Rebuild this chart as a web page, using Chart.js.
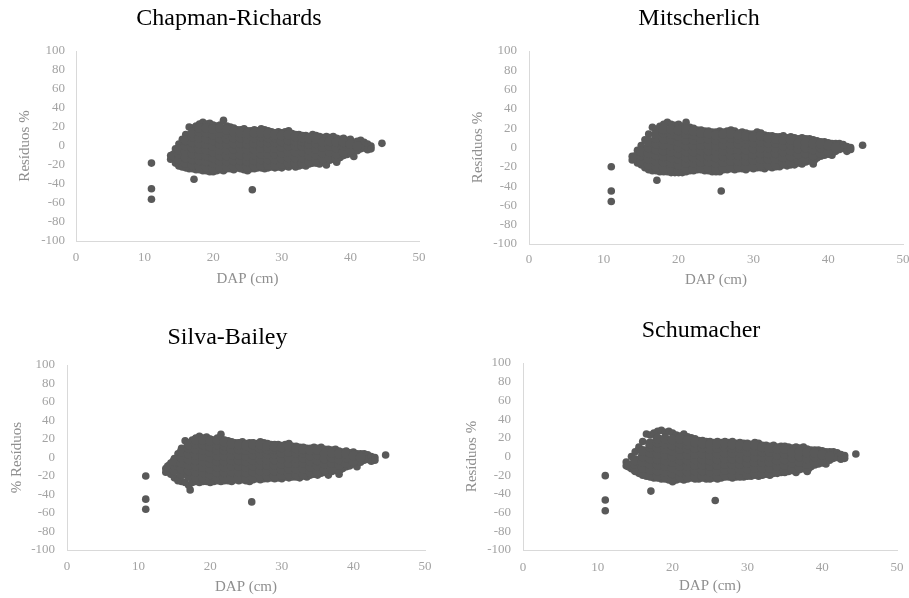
<!DOCTYPE html>
<html><head><meta charset="utf-8">
<script src="https://cdn.jsdelivr.net/npm/chart.js@4.4.0/dist/chart.umd.min.js"></script>
<style>
html,body{margin:0;padding:0;background:#fff;overflow:hidden;width:909px;height:598px;position:relative}
canvas{position:absolute}
</style></head><body>
<canvas id="c1"></canvas><canvas id="c2"></canvas><canvas id="c3"></canvas><canvas id="c4"></canvas>
<script>
// ---------- DATA ----------
const modelNames = ['Chapman-Richards', 'Mitscherlich', 'Silva-Bailey', 'Schumacher'];
const yTitles = ['Resíduos %', 'Resíduos %', '% Resíduos', 'Resíduos %'];
const xTitle = 'DAP (cm)';
const xTicks = [0, 10, 20, 30, 40, 50];
const yTicks = [-100, -80, -60, -40, -20, 0, 20, 40, 60, 80, 100];

// dense core of the residual cloud (DAP column -> residuals)
const coreDAP = [14.2, 15, 16, 17, 18, 19, 20, 21, 22, 23, 24, 25, 26, 27, 28, 29, 30, 31, 32, 33, 34, 35, 36, 37, 38, 39, 40, 41];
const coreRes = [
  [-10], [-14,-8,-4], [-18,-12,-6,0,6], [-20,-14,-8,-2,4,10,14],
  [-21,-15,-9,-3,3,9,15,19], [-22,-16,-10,-4,2,8,14,19], [-24,-18,-12,-6,0,6,12,18], [-22,-16,-10,-4,2,8,14,19],
  [-22,-16,-10,-4,2,8,13,17], [-21,-15,-9,-3,3,9,15], [-21,-15,-9,-3,3,9,14], [-22,-16,-10,-4,2,8,13],
  [-21,-15,-9,-3,3,9,14], [-20,-14,-8,-2,4,10,14], [-20,-14,-8,-2,4,9,13], [-20,-14,-8,-2,4,9,12],
  [-19,-13,-7,-1,5,11], [-18,-12,-6,0,6,12], [-18,-12,-6,0,5,10], [-18,-12,-6,0,5,9],
  [-16,-10,-4,2,8], [-15,-9,-3,3,8], [-13,-7,-1,4], [-12,-6,0,5],
  [-13,-8,-2,4], [-6,0,4], [-4,2], [0]
];

// outer envelope of the cloud, per model
const edgeDAP = [13.8, 14.5, 15, 15.5, 16, 16.5, 17, 17.5, 18, 18.5, 19, 19.5, 20, 20.5, 21, 21.5, 22, 22.5, 23, 23.5, 24, 24.5, 25, 25.5, 26, 26.5, 27, 27.5, 28, 28.5, 29, 29.5, 30, 30.5, 31, 31.5, 32, 32.5, 33, 33.5, 34, 34.5, 35, 35.5, 36, 36.5, 37, 37.5, 38, 38.5, 39, 39.5, 40, 40.5, 41, 41.5, 42, 42.5, 43];

const crTop = [-10, -3, 2, 7, 12, 20, 19, 21, 23, 25, 23, 24, 22, 21, 22, 27, 21, 20, 19, 17, 17, 18, 16, 16, 17, 16, 18, 17, 16, 15, 14, 15, 14, 15, 16, 13, 12, 12, 11, 11, 10, 12, 11, 10, 9, 10, 9, 10, 8, 7, 8, 6, 7, 4, 5, 6, 4, 2, 0];
const crBottom = [-14, -18, -21, -22, -23, -24, -24, -25, -25, -26, -26, -27, -27, -26, -25, -26, -24, -24, -25, -23, -24, -25, -26, -24, -24, -23, -23, -24, -23, -22, -23, -22, -23, -21, -22, -20, -22, -21, -20, -21, -19, -18, -18, -19, -16, -20, -15, -14, -17, -12, -10, -9, -8, -11, -5, -3, -2, -4, -3];
const crOutDAP = [11, 11, 11, 17.2, 25.7, 44.6];
const crOutRes = [-18, -45, -56, -35, -46, 2.8];

const miTop = [-9, -3, 2, 8, 14, 21, 19, 22, 24, 26, 24, 23, 24, 22, 26, 21, 20, 18, 18, 17, 17, 16, 16, 17, 16, 17, 18, 17, 15, 16, 15, 14, 14, 16, 15, 13, 12, 12, 11, 11, 12, 10, 11, 10, 9, 10, 9, 9, 8, 7, 6, 6, 5, 4, 4, 4, 3, 1, 0];
const miBottom = [-13, -16, -18, -21, -23, -24, -24, -25, -25, -25, -26, -26, -26, -26, -25, -24, -24, -23, -23, -24, -24, -25, -25, -25, -23, -23, -22, -23, -22, -22, -23, -21, -22, -21, -21, -22, -20, -21, -20, -20, -18, -19, -18, -18, -16, -17, -15, -14, -17, -11, -9, -8, -7, -8, -4, -2, -1, -4, -2];
const miOutDAP = [11, 11, 11, 17.1, 25.7, 44.6];
const miOutRes = [-20, -45, -56, -34, -45, 2.3];

const sbTop = [-12, -6, -1, 4, 10, 18, 16, 19, 21, 23, 21, 22, 20, 19, 21, 25, 19, 18, 17, 16, 16, 17, 15, 16, 16, 15, 17, 16, 15, 14, 14, 14, 13, 14, 15, 12, 12, 11, 11, 10, 10, 11, 10, 11, 9, 9, 8, 9, 7, 6, 7, 5, 6, 4, 4, 4, 3, 1, 0];
const sbBottom = [-16, -18, -22, -25, -26, -27, -30, -27, -26, -27, -26, -26, -27, -26, -25, -26, -25, -25, -26, -24, -25, -24, -25, -26, -24, -23, -24, -23, -23, -22, -23, -22, -23, -21, -22, -21, -21, -22, -20, -21, -19, -18, -19, -17, -16, -19, -15, -14, -18, -12, -10, -9, -7, -10, -5, -3, -2, -4, -3];
const sbOutDAP = [11, 11, 11, 17.2, 25.8, 44.5];
const sbOutRes = [-20, -45, -56, -35, -48, 2.7];

const scTop = [-6, 0, 5, 10, 16, 24, 23, 25, 27, 28, 26, 27, 25, 23, 22, 24, 21, 20, 19, 17, 17, 16, 16, 15, 16, 15, 16, 15, 16, 14, 15, 14, 14, 13, 15, 14, 12, 12, 11, 12, 10, 11, 11, 10, 9, 10, 9, 10, 8, 7, 7, 7, 6, 5, 5, 5, 4, 2, 1];
const scBottom = [-10, -13, -16, -18, -20, -21, -22, -23, -23, -24, -24, -25, -27, -25, -24, -25, -24, -23, -24, -24, -23, -24, -24, -23, -24, -23, -22, -22, -23, -22, -22, -22, -21, -21, -20, -21, -20, -19, -20, -18, -18, -17, -17, -16, -15, -17, -14, -13, -16, -11, -9, -8, -7, -8, -4, -2, -1, -3, -2];
const scOutDAP = [11, 11, 11, 17.1, 25.7, 44.5];
const scOutRes = [-20.5, -46.5, -58, -37, -47, 2.7];

// ---------- LAYOUT / STYLE ----------
const SERIF = "'Liberation Serif','Times New Roman',serif";
const TITLE_SIZE = 24, AXIS_SIZE = 15, TICK_SIZE = 13;
const POINT_COLOR = '#595959';
const panels = [
  {id:'c1', m:0, top:crTop, bottom:crBottom, oX:crOutDAP, oY:crOutRes,
   box:{left:0, top:0, w:480, h:300}, area:{l:76, r:419, t:51, b:241}, titleX:229, titleY:19, yTitleX:25, xTitleY:279, xTickY:258, yTickPad:11},
  {id:'c2', m:1, top:miTop, bottom:miBottom, oX:miOutDAP, oY:miOutRes,
   box:{left:450, top:0, w:530, h:300}, area:{l:79, r:453, t:51, b:244}, titleX:249, titleY:18.5, yTitleX:28, xTitleY:280, xTickY:260, yTickPad:12},
  {id:'c3', m:2, top:sbTop, bottom:sbBottom, oX:sbOutDAP, oY:sbOutRes,
   box:{left:0, top:300, w:480, h:298}, area:{l:67, r:425, t:65, b:250}, titleX:227.5, titleY:38, yTitleX:17, xTitleY:287, xTickY:266.5, yTickPad:12},
  {id:'c4', m:3, top:scTop, bottom:scBottom, oX:scOutDAP, oY:scOutRes,
   box:{left:450, top:300, w:530, h:298}, area:{l:73, r:447, t:63, b:250}, titleX:251, titleY:31, yTitleX:22, xTitleY:286, xTickY:268, yTickPad:12}
];

function corePoints() {
  const pts = [];
  coreDAP.forEach((d, i) => coreRes[i].forEach(r => pts.push({x: d, y: r})));
  return pts;
}
function edgePoints(p) {
  const pts = [];
  const n = Math.min(edgeDAP.length, p.top.length, p.bottom.length);
  for (let i = 0; i < n; i++) {
    pts.push({x: edgeDAP[i], y: p.top[i]});
    pts.push({x: edgeDAP[i], y: p.bottom[i]});
  }
  return pts;
}
function outlierPoints(p) {
  return p.oX.map((d, i) => ({x: d, y: p.oY[i]}));
}

function build(p) {
  const cv = document.getElementById(p.id);
  cv.width = p.box.w; cv.height = p.box.h;
  Object.assign(cv.style, {left: p.box.left + 'px', top: p.box.top + 'px', width: p.box.w + 'px', height: p.box.h + 'px'});
  // title is centred between the left edge and (left + 2*titleX); a blank right box fills the gap after the plot
  const titleSpan = 2 * p.titleX;
  const pr = p.box.w - titleSpan;
  const spacer = titleSpan - p.area.r;
  const tLH = TITLE_SIZE * 1.2, aLH = AXIS_SIZE * 1.2, kLH = TICK_SIZE * 1.2;
  const tickFont = {family: SERIF, size: TICK_SIZE};
  const axisFont = {family: SERIF, size: AXIS_SIZE};
  const ds = (data, r) => ({data, pointRadius: r, pointHoverRadius: r, pointBorderWidth: 0, backgroundColor: POINT_COLOR, borderColor: POINT_COLOR, showLine: false});
  new Chart(cv, {
    type: 'scatter',
    data: {datasets: [ds(corePoints(), 5), ds(edgePoints(p), 3.8), ds(outlierPoints(p), 3.8)]},
    options: {
      responsive: false, animation: false, events: [], devicePixelRatio: 1,
      layout: {padding: {left: 0, right: pr, top: 0, bottom: 0}},
      plugins: {
        legend: {display: false}, tooltip: {enabled: false},
        title: {display: true, text: modelNames[p.m], color: '#000',
          font: {family: SERIF, size: TITLE_SIZE, weight: 'normal'},
          padding: {top: p.titleY - tLH / 2, bottom: p.area.t - p.titleY - tLH / 2}}
      },
      scales: {
        x: {type: 'linear', min: xTicks[0], max: xTicks[xTicks.length - 1],
          afterBuildTicks: s => { s.ticks = xTicks.map(v => ({value: v})); },
          ticks: {color: '#a3a3a3', font: tickFont, padding: p.xTickY - p.area.b - kLH / 2, maxRotation: 0, autoSkip: false},
          grid: {display: false, drawTicks: false},
          border: {display: true, color: '#d9d9d9', width: 1},
          title: {display: true, text: xTitle, color: '#8f8f8f', font: axisFont, padding: {top: 0, bottom: p.box.h - p.xTitleY - aLH / 2}},
          afterFit: s => { s.height = p.box.h - p.area.b; }
        },
        y: {type: 'linear', position: 'left', min: yTicks[0], max: yTicks[yTicks.length - 1],
          afterBuildTicks: s => { s.ticks = yTicks.map(v => ({value: v})); },
          ticks: {color: '#a3a3a3', font: tickFont, padding: p.yTickPad, autoSkip: false},
          grid: {display: false, drawTicks: false},
          border: {display: true, color: '#d9d9d9', width: 1},
          title: {display: true, text: yTitles[p.m], color: '#8f8f8f', font: axisFont, padding: {top: p.yTitleX - aLH / 2, bottom: 0}},
          afterFit: s => { s.width = p.area.l; }
        },
        spacer: {type: 'linear', position: 'right', display: true,
          ticks: {display: false}, grid: {display: false, drawTicks: false},
          border: {display: false}, title: {display: false},
          afterFit: s => { s.width = spacer; }
        }
      }
    }
  });
}
panels.forEach(build);
</script>
</body></html>
